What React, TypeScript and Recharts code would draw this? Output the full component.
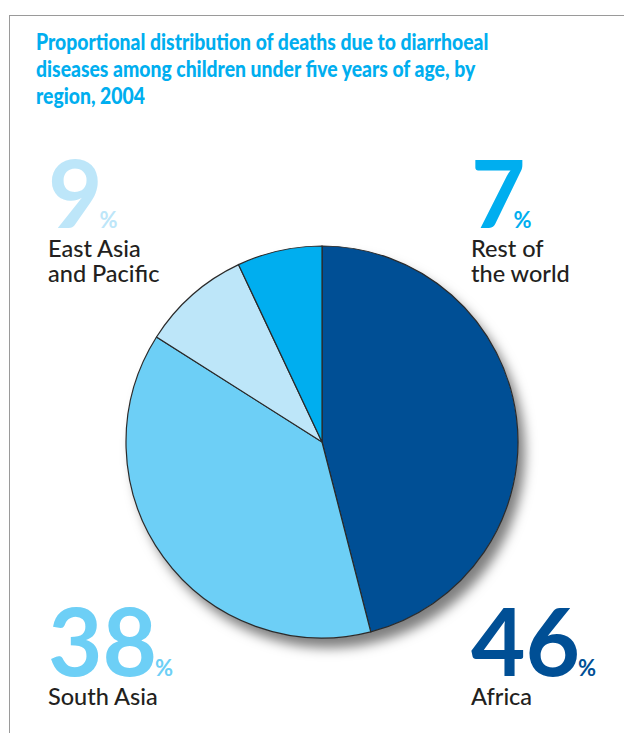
import React from "react";
import { PieChart, Pie, Cell } from "recharts";

const regions = ["Africa", "South Asia", "East Asia and Pacific", "Rest of the world"];
const shares = [46, 38, 9, 7];
const sliceColors = ["#004f95", "#6dcff6", "#bde6f9", "#00aeef"];

const data = regions.map((name, i) => ({ name, value: shares[i] }));

const titleLines = [
  "Proportional distribution of deaths due to diarrhoeal",
  "diseases among children under five years of age, by",
  "region, 2004",
];

const FONT = "Lato, 'Open Sans', sans-serif";

// callouts placed at the corners, in image order
const callouts = [
  { idx: 2, x: 48, numY: 228, pctDx: -3, lines: ["East Asia", "and Pacific"], labelY: 257 },
  { idx: 3, x: 471, numY: 228, pctDx: -12, lines: ["Rest of", "the world"], labelY: 257 },
  { idx: 1, x: 48, numY: 676, pctDx: -2, lines: ["South Asia"], labelY: 705 },
  { idx: 0, x: 471, numY: 676, pctDx: -2, lines: ["Africa"], labelY: 705 },
];

const App: React.FC = () => {
  return (
    <div style={{ position: "absolute", left: 0, top: 0, width: 624, height: 733, background: "#fff", overflow: "hidden" }}>
      {/* frame */}
      <div
        style={{
          position: "absolute",
          left: 9,
          top: 15,
          width: 640,
          height: 740,
          borderTop: "1.5px solid #9a9a9a",
          borderLeft: "1.5px solid #9a9a9a",
        }}
      />
      {/* title */}
      <div
        style={{
          position: "absolute",
          left: 36,
          top: 28,
          width: 640,
          fontFamily: FONT,
          fontWeight: 900,
          fontSize: 22.5,
          lineHeight: "27px",
          color: "#00aeef",
          transform: "scaleX(0.86)",
          transformOrigin: "left top",
        }}
      >
        {titleLines.map((l) => (
          <div key={l}>{l}</div>
        ))}
      </div>
      {/* pie shadow */}
      <div
        style={{
          position: "absolute",
          left: 322 - 196,
          top: 442 - 196,
          width: 392,
          height: 392,
          borderRadius: "50%",
          boxShadow: "7px 10px 12px rgba(0,0,0,0.5)",
        }}
      />
      <div style={{ position: "absolute", left: 0, top: 0 }}>
        <PieChart width={624} height={733} margin={{ top: 0, right: 0, bottom: 0, left: 0 }}>
          <Pie
            data={data}
            dataKey="value"
            nameKey="name"
            cx={322}
            cy={442}
            outerRadius={196}
            startAngle={90}
            endAngle={-270}
            stroke="#2a2a2a"
            strokeWidth={1.2}
            isAnimationActive={false}
          >
            {data.map((d, i) => (
              <Cell key={d.name} fill={sliceColors[i]} />
            ))}
          </Pie>
        </PieChart>
      </div>
      <svg width={624} height={733} style={{ position: "absolute", left: 0, top: 0 }}>
        {callouts.map((c) => (
          <g key={c.idx} fontFamily={FONT}>
            <text x={c.x} y={c.numY} fontSize={94} fontWeight={700} fill={sliceColors[c.idx]}>
              {shares[c.idx]}
              <tspan fontSize={22} dx={c.pctDx}>%</tspan>
            </text>
            {c.lines.map((l, j) => (
              <text key={l} x={c.x} y={c.labelY + j * 25} fontSize={23.5} fontWeight={500} fill="#231f20">
                {l}
              </text>
            ))}
          </g>
        ))}
      </svg>
    </div>
  );
};

export default App;
